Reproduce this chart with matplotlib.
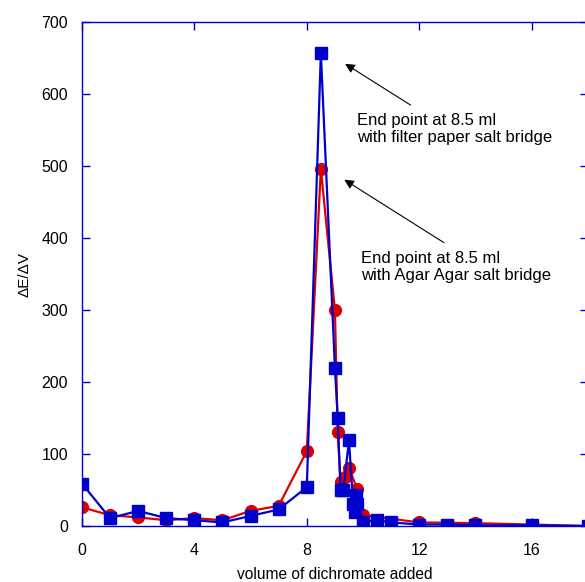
import matplotlib.pyplot as plt

# Agar Agar salt bridge (red circles)
x_agar = [0, 1, 2, 3, 4, 5, 6, 7, 8, 8.5, 9, 9.1, 9.2, 9.35, 9.5, 9.8, 10, 12, 14, 16, 18]
y_agar = [26, 15, 12, 8, 11, 8, 21, 28, 104, 496, 300, 130, 61, 68, 80, 51, 15, 5, 4, 2, 0]

# filter paper salt bridge (blue squares)
x_filter = [0, 1, 2, 3, 4, 5, 6, 7, 8, 8.5, 9, 9.1, 9.2, 9.3, 9.5, 9.65, 9.7, 9.75, 9.8, 10, 10.5, 11, 12, 13, 14, 16, 18]
y_filter = [59, 11, 21, 11, 8, 5, 14, 23, 54, 657, 220, 150, 50, 50, 119, 30, 20, 43, 30, 6, 8, 5, 2, 2, 1, 1, 0]

RED = "#dd0000"
BLUE = "#0000cc"

plt.rcParams.update({"font.family": "Liberation Sans", "font.size": 11})
fig = plt.figure(figsize=(5.85, 5.82), dpi=100)
ax = fig.add_axes([0.140, 0.0962, 0.865, 0.866])

ax.plot(x_agar, y_agar, color=RED, lw=1.6, marker="o", ms=8.5, mec=RED, mfc=RED)
ax.plot(x_filter, y_filter, color=BLUE, lw=1.6, marker="s", ms=8.5, mec=BLUE, mfc=BLUE)

ax.annotate("End point at 8.5 ml\nwith filter paper salt bridge",
            xy=(9.28, 644), xytext=(9.8, 551), ha="left", va="center",
            fontsize=12, linespacing=1.2,
            arrowprops=dict(arrowstyle="-|>", color="black", lw=0.8,
                            mutation_scale=14, relpos=(0.285, 1.2)))
ax.annotate("End point at 8.5 ml\nwith Agar Agar salt bridge",
            xy=(9.25, 483), xytext=(9.92, 360), ha="left", va="center",
            fontsize=12, linespacing=1.2,
            arrowprops=dict(arrowstyle="-|>", color="black", lw=0.8,
                            mutation_scale=14, relpos=(0.45, 1.2)))

ax.set_xlim(0, 18)
ax.set_ylim(0, 700)
ax.set_xticks([0, 4, 8, 12, 16])
ax.set_yticks(range(0, 701, 100))
ax.tick_params(direction="in", length=6, width=1, color=BLUE,
               top=True, right=True, labelsize=11.5)
ax.tick_params(axis="x", pad=12)
ax.tick_params(axis="y", pad=10)
for sp in ax.spines.values():
    sp.set_color(BLUE)
    sp.set_linewidth(1)

ax.set_xlabel("volume of dichromate added", fontsize=11.2, labelpad=7)
ax.set_ylabel("\u0394E/\u0394V", fontsize=11, labelpad=7)

fig.savefig("out.png", dpi=100)
